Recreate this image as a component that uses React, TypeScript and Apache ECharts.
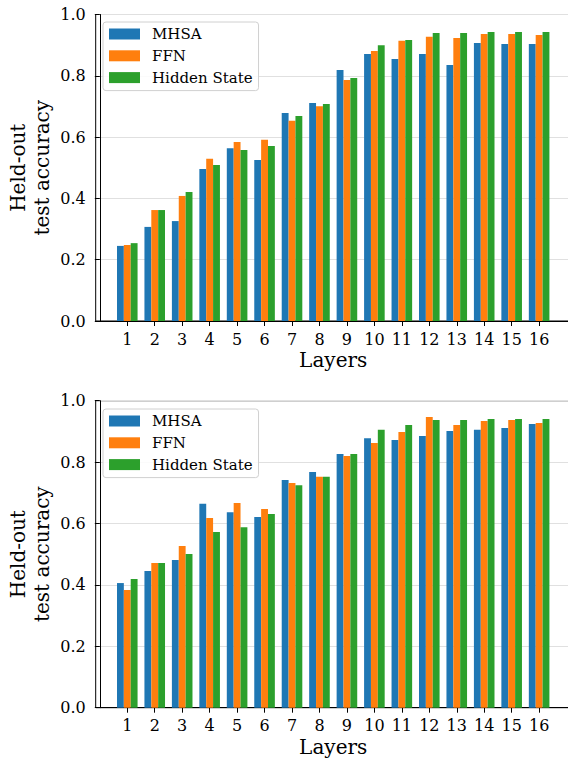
import React, { useEffect, useRef } from "react";
import * as echarts from "echarts";

const layers = [1, 2, 3, 4, 5, 6, 7, 8, 9, 10, 11, 12, 13, 14, 15, 16];
const seriesNames = ["MHSA", "FFN", "Hidden State"];
const colors = ["#1f77b4", "#ff7f0e", "#2ca02c"];
const yTicks = [0, 0.2, 0.4, 0.6, 0.8, 1.0];

// Top panel
const topMHSA = [0.245, 0.307, 0.326, 0.496, 0.564, 0.525, 0.679, 0.711, 0.819, 0.871, 0.855, 0.871, 0.835, 0.907, 0.904, 0.904];
const topFFN = [0.248, 0.362, 0.408, 0.529, 0.584, 0.591, 0.653, 0.701, 0.786, 0.881, 0.914, 0.927, 0.923, 0.936, 0.936, 0.933];
const topHidden = [0.254, 0.362, 0.421, 0.509, 0.558, 0.571, 0.669, 0.708, 0.793, 0.900, 0.917, 0.940, 0.940, 0.943, 0.943, 0.943];

// Bottom panel
const botMHSA = [0.406, 0.445, 0.481, 0.664, 0.637, 0.621, 0.742, 0.768, 0.826, 0.878, 0.872, 0.885, 0.901, 0.905, 0.911, 0.924];
const botFFN = [0.383, 0.471, 0.527, 0.618, 0.667, 0.647, 0.732, 0.752, 0.820, 0.862, 0.898, 0.947, 0.921, 0.934, 0.937, 0.927];
const botHidden = [0.419, 0.471, 0.501, 0.572, 0.588, 0.631, 0.725, 0.752, 0.826, 0.905, 0.921, 0.937, 0.937, 0.940, 0.940, 0.940];

const FONT = "DejaVu Serif";

export default function App() {
  const ref = useRef<HTMLDivElement>(null);

  useEffect(() => {
    document.body.style.margin = "0";
    if (!ref.current) return;
    const chart = echarts.init(ref.current, undefined, { renderer: "svg" });

    const panels = [
      { top: 14.5, height: 306.5, data: [topMHSA, topFFN, topHidden], legendTop: 22 },
      { top: 400.7, height: 307, data: [botMHSA, botFFN, botHidden], legendTop: 409 },
    ];

    const grid = panels.map((p) => ({
      left: 95.7,
      top: p.top,
      width: 475,
      height: p.height,
      outerBoundsMode: "none",
      containLabel: false,
      show: true,
      borderColor: "#000",
      borderWidth: 1,
      backgroundColor: "transparent",
    }));

    const xAxis = panels.map((_, gi) => ({
      type: "value",
      gridIndex: gi,
      min: -0.15,
      max: 17.15,
      axisLine: { show: true, onZero: false, lineStyle: { color: "#000", width: 1 } },
      axisTick: { show: true, customValues: layers, length: 5, lineStyle: { color: "#000", width: 1 } },
      axisLabel: {
        customValues: layers,
        margin: 10,
        fontFamily: FONT,
        fontSize: 16,
        color: "#000",
        formatter: (v: number) => String(v),
      },
      splitLine: { show: false },
      name: "Layers",
      nameLocation: "middle",
      nameGap: 29,
      nameTextStyle: { fontFamily: FONT, fontSize: 20, color: "#000" },
    }));

    const yAxis = panels.map((_, gi) => ({
      type: "value",
      gridIndex: gi,
      min: yTicks[0],
      max: yTicks[yTicks.length - 1],
      interval: 0.2,
      axisLine: { show: true, lineStyle: { color: "#000", width: 1 } },
      axisTick: { show: true, length: 5, lineStyle: { color: "#000", width: 1 } },
      axisLabel: {
        margin: 10,
        fontFamily: FONT,
        fontSize: 16,
        color: "#000",
        formatter: (v: number) => v.toFixed(1),
      },
      splitLine: { show: true, lineStyle: { color: "#e0e0e0", width: 1 } },
      name: "Held-out\ntest accuracy",
      nameLocation: "middle",
      nameGap: 42,
      nameMoveOverlap: false,
      nameTextStyle: { fontFamily: FONT, fontSize: 20, lineHeight: 24, color: "#000" },
    }));

    const series: any[] = [];
    panels.forEach((p, gi) => {
      p.data.forEach((vals, si) => {
        series.push({
          type: "bar",
          name: seriesNames[si],
          xAxisIndex: gi,
          yAxisIndex: gi,
          barWidth: "25%",
          barGap: "0%",
          itemStyle: { color: colors[si] },
          data: layers.map((l, i) => [l, vals[i]]),
        });
      });
    });

    const legend = panels.map((p) => ({
      data: seriesNames,
      orient: "vertical",
      left: 103,
      top: p.legendTop,
      itemWidth: 31,
      itemHeight: 11,
      itemGap: 5.8,
      icon: "rect",
      selectedMode: false,
      padding: [4, 6, 5, 6],
      borderColor: "#d0d0d0",
      borderWidth: 1,
      borderRadius: 3,
      backgroundColor: "rgba(255,255,255,0.85)",
      textStyle: { fontFamily: FONT, fontSize: 15, lineHeight: 16, color: "#000", padding: [0, 0, 0, 7] },
    }));

    chart.setOption({
      animation: false,
      color: colors,
      grid,
      xAxis,
      yAxis,
      legend,
      series,
    });

    return () => chart.dispose();
  }, []);

  return <div ref={ref} style={{ width: 568, height: 758 }} />;
}
